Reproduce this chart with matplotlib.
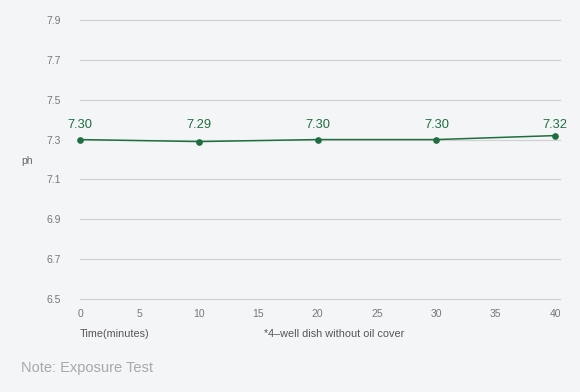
import matplotlib
matplotlib.use("Agg")
import matplotlib.pyplot as plt

# data
minutes = [0, 10, 20, 30, 40]
ph_values = [7.30, 7.29, 7.30, 7.30, 7.32]
x_ticks = [0, 5, 10, 15, 20, 25, 30, 35, 40]
y_ticks = [6.5, 6.7, 6.9, 7.1, 7.3, 7.5, 7.7, 7.9]

bg = "#f4f5f7"
green = "#1f6e3f"
plt.rcParams['font.family'] = ['Liberation Sans', 'DejaVu Sans']

fig = plt.figure(figsize=(5.8, 3.92), dpi=100, facecolor=bg)
W, H = 580, 392
ax = fig.add_axes([80 / W, (H - 299) / H, 480 / W, 279 / H], facecolor=bg)

ax.plot(minutes, ph_values, color=green, lw=1.1, marker="o", ms=3.8, zorder=3, clip_on=False)
for x, y in zip(minutes, ph_values):
    ax.annotate("%.2f" % y, (x, 7.375), ha="center", va="center",
                fontsize=9.3, color=green, annotation_clip=False)

ax.set_xlim(0, 40.4)
ax.set_ylim(6.5, 7.9)
ax.set_xticks(x_ticks)
ax.set_yticks(y_ticks)
ax.set_yticklabels(["%.1f" % v for v in y_ticks])
ax.grid(axis="y", color="#d2d2d4", lw=0.9)
ax.grid(axis="x", visible=False)
for gl in ax.get_ygridlines():
    gl.set_clip_on(False)
ax.set_axisbelow(True)
for s in ax.spines.values():
    s.set_visible(False)
ax.tick_params(length=0, labelsize=7.5, labelcolor="#777777")
ax.tick_params(axis="x", pad=7)
ax.tick_params(axis="y", pad=14)

fig.text(27 / W, 1 - 161 / H, "ph", ha="center", va="center", fontsize=7.5, color="#666666")
fig.text(80 / W, 1 - 334 / H, "Time(minutes)", ha="left", va="center", fontsize=7.8, color="#555555")
fig.text(264 / W, 1 - 334 / H, "*4\u2013well dish without oil cover", ha="left", va="center",
         fontsize=7.8, color="#555555")
fig.text(21 / W, 1 - 368 / H, "Note: Exposure Test", ha="left", va="center", fontsize=10.5, color="#a8a8a8")

fig.savefig("out.png", dpi=100, facecolor=bg)
